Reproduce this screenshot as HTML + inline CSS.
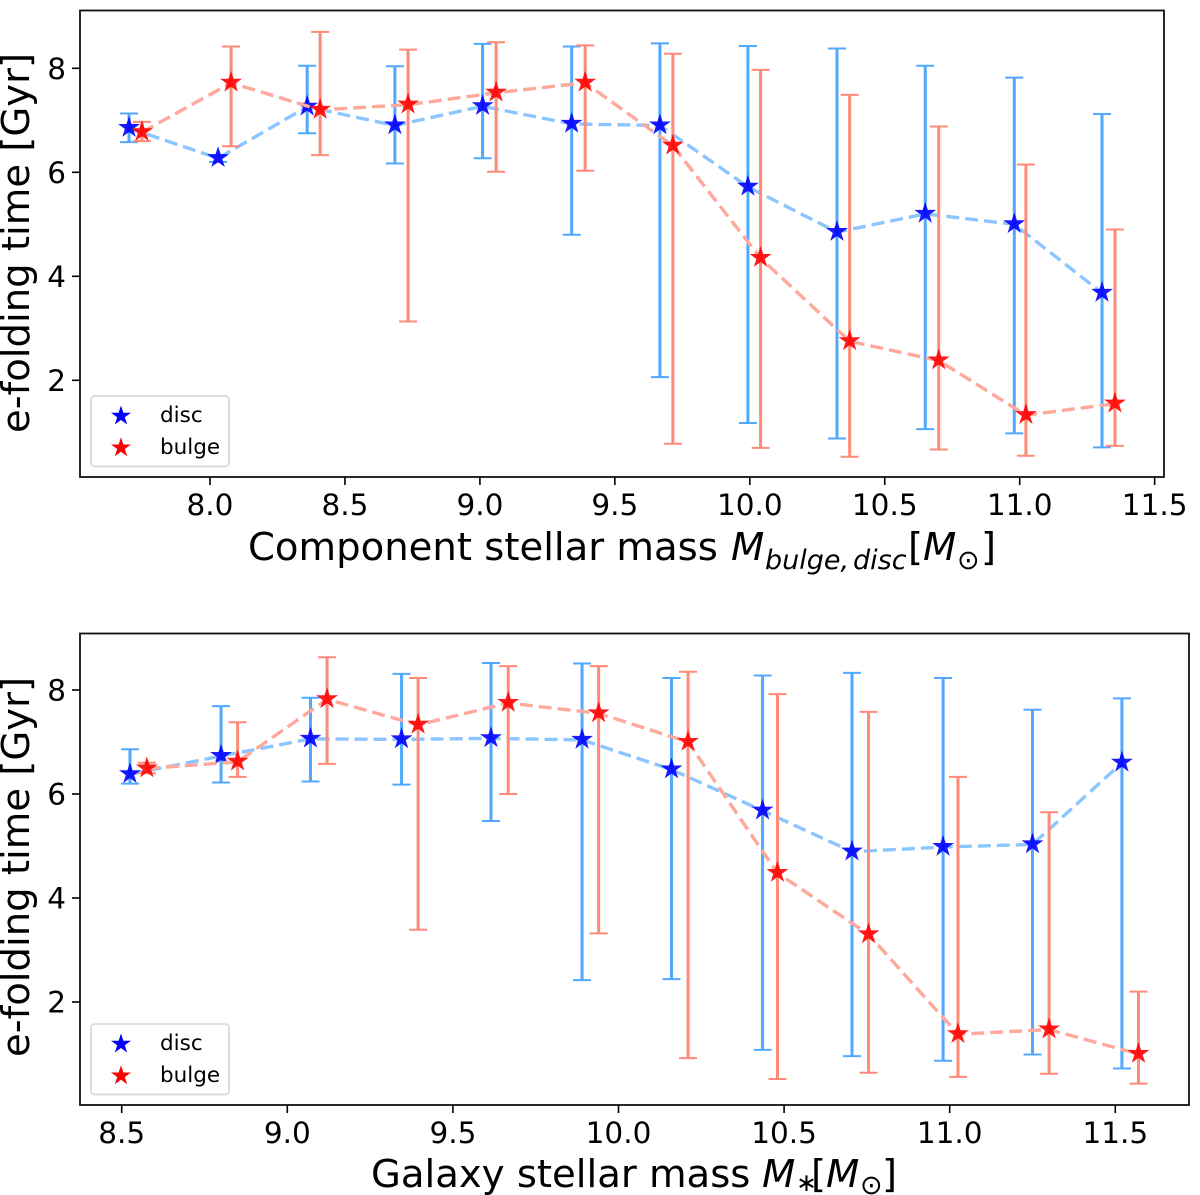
<!DOCTYPE html>
<html>
<head>
<meta charset="utf-8">
<style>
html,body{margin:0;padding:0;background:#fff;}
svg{display:block;}
text{font-family:"DejaVu Sans","Liberation Sans",sans-serif;fill:#000;}
.tick{font-size:29.5px;}
.title{font-size:38.6px;}
.mi{font-size:38.6px;font-style:italic;}
.sub{font-size:27px;font-style:italic;}
.ast{font-size:25px;}
.leg{font-size:21.5px;}
</style>
</head>
<body>
<svg id="fig" width="1200" height="1195" viewBox="0 0 1200 1195" xmlns="http://www.w3.org/2000/svg">
  <g id="top-panel"></g>
  <g id="bottom-panel"></g>

  <text class="title" transform="translate(29,243) rotate(-90)" text-anchor="middle">e-folding time [Gyr]</text>
  <g>
    <text class="title" x="248" y="560">Component stellar mass</text>
    <text class="mi" x="731" y="560">M</text>
    <text class="sub" x="765" y="569">bulge,</text>
    <text class="sub" x="853" y="569">disc</text>
    <text class="title" x="908" y="560">[</text>
    <text class="mi" x="923" y="560">M</text>
    <text class="sub" x="957" y="569">⊙</text>
    <text class="title" x="981" y="560">]</text>
  </g>

  <text class="title" transform="translate(29,867) rotate(-90)" text-anchor="middle">e-folding time [Gyr]</text>
  <g>
    <text class="title" x="371" y="1187">Galaxy stellar mass</text>
    <text class="mi" x="762" y="1187">M</text>
    <text class="ast" x="796" y="1191">∗</text>
    <text class="title" x="811" y="1187">[</text>
    <text class="mi" x="826" y="1187">M</text>
    <text class="sub" x="860" y="1194">⊙</text>
    <text class="title" x="882" y="1187">]</text>
  </g>
</svg>

<script>
const topXTicks = [8.0, 8.5, 9.0, 9.5, 10.0, 10.5, 11.0, 11.5];
const topYTicks = [2, 4, 6, 8];
const topDiscX = [7.70, 8.03, 8.36, 8.685, 9.01, 9.34, 9.667, 9.993, 10.323, 10.65, 10.98, 11.305];
const topDiscY = [6.85, 6.27, 7.26, 6.90, 7.27, 6.93, 6.90, 5.72, 4.85, 5.20, 5.00, 3.68];
const topDiscLow = [6.58, 6.20, 6.75, 6.17, 6.27, 4.80, 2.06, 1.18, 0.88, 1.06, 0.98, 0.71];
const topDiscHigh = [7.13, 6.33, 8.05, 8.04, 8.47, 8.42, 8.48, 8.43, 8.38, 8.05, 7.82, 7.12];
const topBulgeX = [7.748, 8.078, 8.408, 8.734, 9.06, 9.39, 9.715, 10.04, 10.37, 10.70, 11.023, 11.353];
const topBulgeY = [6.77, 7.72, 7.20, 7.30, 7.53, 7.72, 6.51, 4.35, 2.75, 2.38, 1.33, 1.55];
const topBulgeLow = [6.60, 6.50, 6.33, 3.13, 6.01, 6.03, 0.78, 0.70, 0.53, 0.67, 0.55, 0.74];
const topBulgeHigh = [6.97, 8.42, 8.70, 8.36, 8.50, 8.44, 8.28, 7.97, 7.49, 6.88, 6.15, 4.90];

const bottomXTicks = [8.5, 9.0, 9.5, 10.0, 10.5, 11.0, 11.5];
const bottomYTicks = [2, 4, 6, 8];
const bottomDiscX = [8.525, 8.80, 9.07, 9.345, 9.615, 9.89, 10.16, 10.435, 10.705, 10.98, 11.25, 11.52];
const bottomDiscY = [6.38, 6.73, 7.06, 7.05, 7.07, 7.04, 6.47, 5.68, 4.89, 4.98, 5.03, 6.60];
const bottomDiscLow = [6.20, 6.22, 6.24, 6.18, 5.48, 2.42, 2.44, 1.08, 0.96, 0.87, 0.99, 0.72];
const bottomDiscHigh = [6.86, 7.69, 7.85, 8.31, 8.52, 8.51, 8.23, 8.28, 8.33, 8.23, 7.62, 7.84];
const bottomBulgeX = [8.576, 8.85, 9.12, 9.395, 9.667, 9.94, 10.21, 10.48, 10.755, 11.025, 11.30, 11.57];
const bottomBulgeY = [6.49, 6.62, 7.82, 7.33, 7.75, 7.55, 7.00, 4.48, 3.30, 1.38, 1.47, 1.00];
const bottomBulgeLow = [6.40, 6.33, 6.58, 3.39, 6.00, 3.32, 0.92, 0.52, 0.64, 0.56, 0.62, 0.43];
const bottomBulgeHigh = [6.60, 7.38, 8.63, 8.23, 8.46, 8.46, 8.35, 7.92, 7.58, 6.33, 5.65, 2.20];

const seriesNames = ['disc', 'bulge'];

const NS = 'http://www.w3.org/2000/svg';
function make(parent, tag, props) {
  const node = document.createElementNS(NS, tag);
  for (const k in props) node.setAttribute(k, props[k]);
  parent.appendChild(node);
  return node;
}
function starPoints(cx, cy, R) {
  const r = R * 0.382, pts = [];
  for (let i = 0; i < 10; i++) {
    const a = -Math.PI / 2 + i * Math.PI / 5, q = i % 2 ? r : R;
    pts.push((cx + q * Math.cos(a)).toFixed(2) + ',' + (cy + q * Math.sin(a)).toFixed(2));
  }
  return pts.join(' ');
}

function drawSeries(g, prefix, sx, sy, xs, ys, lows, highs, star, line, err) {
  const path = make(g, 'polyline', {
    points: xs.map(function (x, i) { return sx(x).toFixed(2) + ',' + sy(ys[i]).toFixed(2); }).join(' '),
    fill: 'none', stroke: line, 'stroke-width': 3.4, 'stroke-dasharray': '13 6'
  });
  
  
  xs.forEach(function (x, i) {
    const px = sx(x), hi = sy(highs[i]), lo = sy(lows[i]);
    const eb = make(g, 'g', {stroke: err, fill: 'none'});
    
    
    make(eb, 'line', {x1: px, x2: px, y1: hi, y2: lo, 'stroke-width': 3});
    make(eb, 'line', {x1: px - 9, x2: px + 9, y1: hi, y2: hi, 'stroke-width': 2});
    make(eb, 'line', {x1: px - 9, x2: px + 9, y1: lo, y2: lo, 'stroke-width': 2});
  });
  xs.forEach(function (x, i) {
    const s = make(g, 'polygon', {points: starPoints(sx(x), sy(ys[i]) - 0.5, 11.5), fill: star, 'fill-opacity': 0.9});
    
    
  });
}

function drawPanel(g, box, sx, sy, xTicks, yTicks, xDec, disc, bulge, legendTop, labelY, prefix) {
  const xAxis = make(g, 'g', {});
  
  
  xTicks.forEach(function (t) {
    const px = sx(t);
    const mark = make(xAxis, 'line', {x1: px, x2: px, y1: box.b, y2: box.b + 8, stroke: '#000', 'stroke-width': 1.6});
    
    
    const lab = make(xAxis, 'text', {x: px, y: labelY, 'text-anchor': 'middle', class: 'tick'});
    lab.textContent = t.toFixed(xDec);
    
    
  });
  const yAxis = make(g, 'g', {});
  
  
  yTicks.forEach(function (t) {
    const py = sy(t);
    const mark = make(yAxis, 'line', {x1: box.l - 8, x2: box.l, y1: py, y2: py, stroke: '#000', 'stroke-width': 1.6});
    
    
    const lab = make(yAxis, 'text', {x: box.l - 14, y: py + 10.5, 'text-anchor': 'end', class: 'tick'});
    lab.textContent = String(t);
    
    
  });

  drawSeries(g, prefix + '-disc', sx, sy, disc[0], disc[1], disc[2], disc[3], '#0000ff', '#8cc6ff', '#50a8ff');
  drawSeries(g, prefix + '-bulge', sx, sy, bulge[0], bulge[1], bulge[2], bulge[3], '#ff0000', '#ffa89c', '#ff8a78');

  const frame = make(g, 'rect', {x: box.l, y: box.t, width: box.r - box.l, height: box.b - box.t, fill: 'none', stroke: '#111', 'stroke-width': 1.8});
  
  

  const legend = make(g, 'g', {});
  
  
  make(legend, 'rect', {x: 91, y: legendTop, width: 138, height: 70.5, rx: 4, fill: '#fff', 'fill-opacity': 0.8, stroke: '#d9d9d9', 'stroke-width': 1.8});
  seriesNames.forEach(function (name, i) {
    const entry = make(legend, 'g', {});
    
    
    const cy = legendTop + 20 + i * 31.7;
    make(entry, 'polygon', {points: starPoints(121, cy, 10.5), fill: i ? '#ff0000' : '#0000ff'});
    const tx = make(entry, 'text', {x: 160, y: legendTop + 26 + i * 32, class: 'leg'});
    tx.textContent = name;
  });
}

const topBox = {l: 80, r: 1164, t: 10.5, b: 477};
const topSx = function (v) { return 210 + (v - 8) * 269.9; };
const topSy = function (v) { return 68.3 + (8 - v) * 52; };
drawPanel(document.getElementById('top-panel'), topBox, topSx, topSy, topXTicks, topYTicks, 1,
  [topDiscX, topDiscY, topDiscLow, topDiscHigh],
  [topBulgeX, topBulgeY, topBulgeLow, topBulgeHigh], 396, 515, 'top');

const bottomBox = {l: 80, r: 1189, t: 633.5, b: 1105};
const bottomSx = function (v) { return 121.7 + (v - 8.5) * 331.2; };
const bottomSy = function (v) { return 690 + (8 - v) * 52; };
drawPanel(document.getElementById('bottom-panel'), bottomBox, bottomSx, bottomSy, bottomXTicks, bottomYTicks, 1,
  [bottomDiscX, bottomDiscY, bottomDiscLow, bottomDiscHigh],
  [bottomBulgeX, bottomBulgeY, bottomBulgeLow, bottomBulgeHigh], 1024, 1143, 'bottom');
</script>
</body>
</html>
